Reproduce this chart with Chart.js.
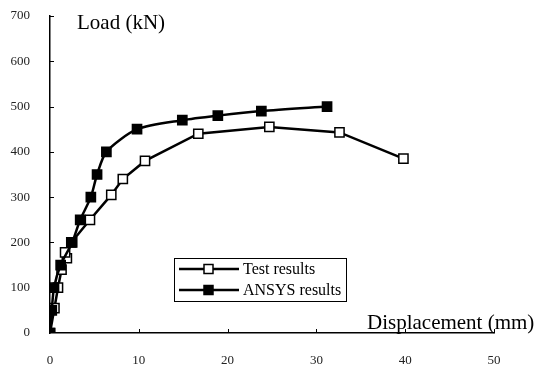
<!DOCTYPE html>
<html>
<head>
<meta charset="utf-8">
<script src="https://cdn.jsdelivr.net/npm/chart.js@4/dist/chart.umd.min.js"></script>
<style>
  html, body { margin: 0; padding: 0; background: #fff; }
  #wrap { width: 539px; height: 367px; }
</style>
</head>
<body>
<div id="wrap"><canvas id="loadChart"></canvas></div>
<script>
// load-displacement curves
var testDisp = [0, 0.5, 0.9, 1.3, 1.9, 1.7, 2.4, 4.5, 6.9, 8.2, 10.7, 16.7, 24.7, 32.6, 39.8];
var testLoad = [0, 55, 100, 140, 165, 178, 200, 250, 305, 340, 380, 440, 455, 443, 385];
var ansysDisp = [0, 0.2, 0.45, 1.2, 2.5, 3.4, 4.6, 5.3, 6.35, 9.8, 14.9, 18.9, 23.8, 31.2];
var ansysLoad = [0, 50, 100, 150, 200, 250, 300, 350, 400, 450, 470, 480, 490, 500];
var seriesNames = ['Test results', 'ANSYS results'];
var xTicks = [0, 10, 20, 30, 40, 50];
var yTicks = [0, 100, 200, 300, 400, 500, 600, 700];

var serif = '"Liberation Serif", "Times New Roman", serif';

function toPoints(xs, ys) {
    var pts = [];
    for (var i = 0; i < xs.length; i++) {
        pts.push({ x: xs[i], y: ys[i] });
    }
    return pts;
}

// short tick marks pointing into the plot
var innerTicks = {
    id: 'innerTicks',
    afterDraw: function (chart) {
        var ctx = chart.ctx;
        var area = chart.chartArea;
        var xs = chart.scales.x, ys = chart.scales.y;
        ctx.save();
        ctx.strokeStyle = '#000';
        ctx.lineWidth = 1;
        xTicks.forEach(function (v) {
            if (v === 0) return;
            var px = Math.round(xs.getPixelForValue(v)) + 0.5;
            ctx.beginPath();
            ctx.moveTo(px, area.bottom);
            ctx.lineTo(px, area.bottom - 4);
            ctx.stroke();
        });
        yTicks.forEach(function (v) {
            if (v === 0) return;
            var py = Math.round(ys.getPixelForValue(v)) + 0.5;
            ctx.beginPath();
            ctx.moveTo(area.left, py);
            ctx.lineTo(area.left + 4, py);
            ctx.stroke();
        });
        ctx.restore();
    }
};

// axis captions and the boxed legend
var captions = {
    id: 'captions',
    afterDraw: function (chart) {
        var ctx = chart.ctx;
        ctx.save();
        ctx.fillStyle = '#000';
        ctx.font = '21px ' + serif;
        ctx.textBaseline = 'middle';
        ctx.textAlign = 'left';
        ctx.fillText('Load (kN)', 77, 23);
        ctx.fillText('Displacement (mm)', 367, 323);

        var bx = 174.5, by = 258.5, bw = 172, bh = 43;
        ctx.fillStyle = '#fff';
        ctx.fillRect(bx, by, bw, bh);
        ctx.strokeStyle = '#000';
        ctx.lineWidth = 1;
        ctx.strokeRect(bx, by, bw, bh);

        ctx.font = '16px ' + serif;
        chart.data.datasets.forEach(function (ds, i) {
            var rowY = 269 + i * 21;
            ctx.strokeStyle = '#000';
            ctx.lineWidth = 2.5;
            ctx.beginPath();
            ctx.moveTo(179, rowY);
            ctx.lineTo(239, rowY);
            ctx.stroke();
            ctx.fillStyle = ds.pointBackgroundColor;
            ctx.lineWidth = 1.5;
            ctx.fillRect(204, rowY - 4.5, 9, 9);
            ctx.strokeRect(204, rowY - 4.5, 9, 9);
            ctx.fillStyle = '#000';
            ctx.fillText(ds.label, 243, rowY + 1);
        });
        ctx.restore();
    }
};

var config = {
    type: 'scatter',
    data: {
        datasets: [
            {
                label: seriesNames[0],
                data: toPoints(testDisp, testLoad),
                showLine: true,
                borderColor: '#000',
                borderWidth: 2.5,
                pointStyle: 'rect',
                pointRadius: 6.5,
                pointBackgroundColor: '#fff',
                pointBorderColor: '#000',
                pointBorderWidth: 1.5,
                order: 2
            },
            {
                label: seriesNames[1],
                data: toPoints(ansysDisp, ansysLoad),
                showLine: true,
                tension: 0.25,
                borderColor: '#000',
                borderWidth: 2.5,
                pointStyle: 'rect',
                pointRadius: 6.5,
                pointBackgroundColor: '#000',
                pointBorderColor: '#000',
                pointBorderWidth: 1.5,
                order: 1
            }
        ]
    },
    options: {
        responsive: true,
        maintainAspectRatio: false,
        animation: false,
        layout: { padding: { top: 16, right: 45, left: 0, bottom: 0 } },
        plugins: {
            legend: { display: false },
            tooltip: { enabled: false }
        },
        scales: {
            x: {
                type: 'linear',
                min: 0,
                max: 50,
                afterFit: function (scale) { scale.height = 34; },
                afterBuildTicks: function (scale) {
                    scale.ticks = xTicks.map(function (v) { return { value: v }; });
                },
                grid: { display: false, drawTicks: false },
                border: { display: true, color: '#000', width: 1.5 },
                ticks: {
                    padding: 20,
                    color: '#222',
                    font: { family: serif, size: 13 }
                }
            },
            y: {
                type: 'linear',
                min: 0,
                max: 700,
                afterFit: function (scale) {
                    scale.width = 50;
                    scale.paddingTop = 0;
                    scale.paddingBottom = 0;
                },
                afterBuildTicks: function (scale) {
                    scale.ticks = yTicks.map(function (v) { return { value: v }; });
                },
                grid: { display: false, drawTicks: false },
                border: { display: true, color: '#000', width: 1.5 },
                ticks: {
                    padding: 20,
                    color: '#222',
                    font: { family: serif, size: 13 }
                }
            }
        }
    },
    plugins: [innerTicks, captions]
};

new Chart(document.getElementById('loadChart'), config);
</script>
</body>
</html>
